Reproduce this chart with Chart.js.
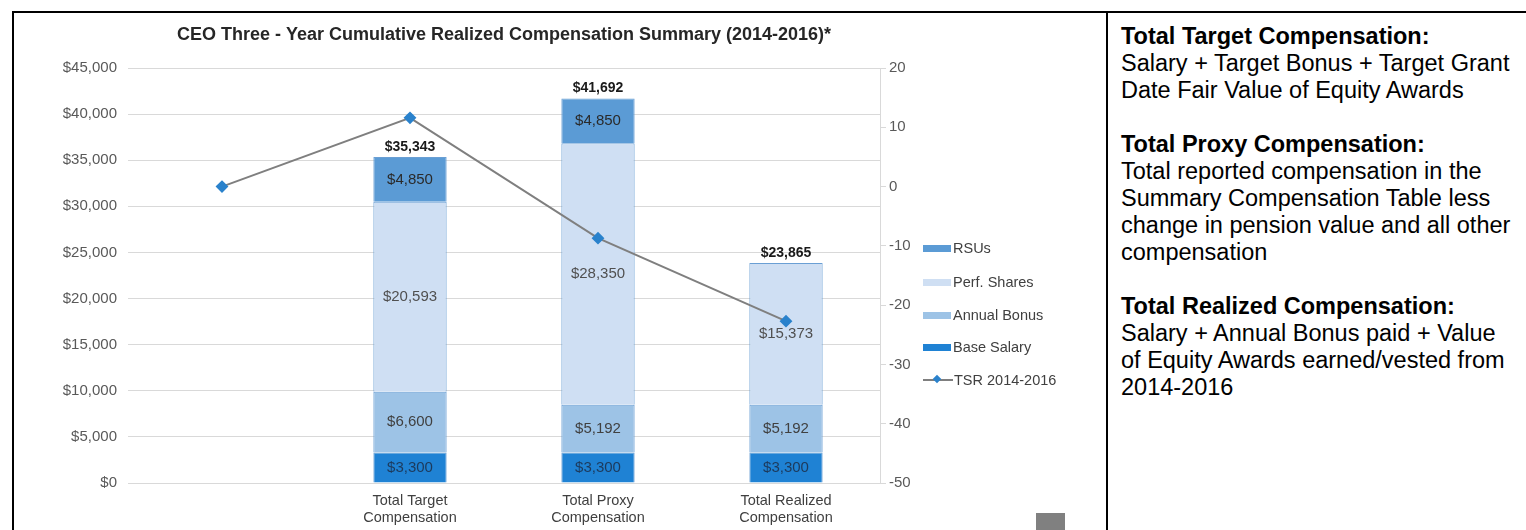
<!DOCTYPE html>
<html>
<head>
<meta charset="utf-8">
<script src="https://cdn.jsdelivr.net/npm/chart.js@4.4.1/dist/chart.umd.min.js"></script>
<style>
  body { margin: 0; background: #fff; font-family: "Liberation Sans", Arial, sans-serif; }
  #frame { position: absolute; left: 12px; top: 11px; width: 1600px; height: 600px;
           border-left: 2px solid #000; border-top: 2px solid #000; }
  #divider { position: absolute; left: 1106px; top: 11px; width: 2px; height: 600px; background: #000; }
  #chartBox { position: absolute; left: 14px; top: 14px; width: 1092px; height: 516px; }
  #notes { position: absolute; left: 1121px; top: 23px; font-size: 23.5px; color: #000; white-space: nowrap; }
  #legend { position: absolute; left: 923px; top: 0; font-size: 14.5px; color: #404040; }
  .item { position: absolute; left: 0; height: 16px; white-space: nowrap; }
  .swatch { position: absolute; left: 0; top: 5px; width: 28px; height: 7px; }
  .name { position: absolute; left: 30px; top: 0; line-height: 16px; }
  #stamp { position: absolute; left: 1036px; top: 513px; width: 29px; height: 17px; background: #808080; }
</style>
</head>
<body>
<div id="frame"></div>
<div id="divider"></div>
<div id="chartBox"><canvas id="chart" width="1092" height="516"></canvas></div>
<div id="legend"></div>
<div id="stamp"></div>
<div id="notes">
<b>Total Target Compensation:</b><br>Salary + Target Bonus + Target Grant<br>Date Fair Value of Equity Awards<br><br>
<b>Total Proxy Compensation:</b><br>Total reported compensation in the<br>Summary Compensation Table less<br>change in pension value and all other<br>compensation<br><br>
<b>Total Realized Compensation:</b><br>Salary + Annual Bonus paid + Value<br>of Equity Awards earned/vested from<br>2014-2016
</div>
<script>
// values ($, TSR in %)
const categories = ['', ['Total Target', 'Compensation'], ['Total Proxy', 'Compensation'], ['Total Realized', 'Compensation']];
const baseSalary  = [null, 3300, 3300, 3300];
const annualBonus = [null, 6600, 5192, 5192];
const perfShares  = [null, 20593, 28350, 15373];
const rsus        = [null, 4850, 4850, null];
const tsr         = [0, 11.6, -8.7, -22.7];
const leftRange   = [0, 45000, 5000];
const rightRange  = [-50, 20, 10];

const FONT = '"Liberation Sans", Arial, sans-serif';
const money = v => '$' + Math.round(v).toLocaleString('en-US');

// stacked from the bottom up
const barSeries = [
  { label: 'Base Salary',  data: baseSalary,  color: '#1f82d4', text: '#1d3a5c' },
  { label: 'Annual Bonus', data: annualBonus, color: '#9dc3e6', text: '#404040' },
  { label: 'Perf. Shares', data: perfShares,  color: '#cfdff3', text: '#505050' },
  { label: 'RSUs',         data: rsus,        color: '#5b9bd5', text: '#2a2a2a' }
];

const barLabels = {
  id: 'barLabels',
  afterDatasetsDraw(chart) {
    const ctx = chart.ctx;
    const y = chart.scales.y;
    ctx.save();
    ctx.textAlign = 'center';
    ctx.textBaseline = 'middle';
    ctx.font = '15px ' + FONT;
    barSeries.forEach((s, i) => {
      chart.getDatasetMeta(i).data.forEach((bar, j) => {
        if (!s.data[j]) return;
        ctx.fillStyle = s.text;
        ctx.fillText(money(s.data[j]), bar.x, (bar.y + bar.base) / 2);
      });
    });
    // totals on top of each stack
    ctx.font = 'bold 14px ' + FONT;
    ctx.fillStyle = '#1a1a1a';
    const meta = chart.getDatasetMeta(0);
    categories.forEach((c, j) => {
      let total = 0;
      barSeries.forEach(s => { total += s.data[j] || 0; });
      if (!total) return;
      ctx.fillText(money(total), meta.data[j].x, y.getPixelForValue(total) - 10);
    });
    ctx.restore();
  }
};

const datasets = barSeries.map(s => ({
  type: 'bar',
  label: s.label,
  data: s.data,
  backgroundColor: s.color,
  borderColor: '#6a9fd4',
  borderWidth: 1,
  yAxisID: 'y',
  order: 1
}));
datasets.push({
  type: 'line',
  label: 'TSR 2014-2016',
  data: tsr,
  borderColor: '#7f7f7f',
  borderWidth: 2,
  pointStyle: 'rectRot',
  pointRadius: 5,
  pointBackgroundColor: '#2a82cc',
  pointBorderColor: '#2a82cc',
  yAxisID: 'y1',
  order: 0
});

new Chart(document.getElementById('chart'), {
  data: { labels: categories, datasets: datasets },
  options: {
    responsive: false,
    animation: false,
    layout: { padding: 0 },
    datasets: { bar: { categoryPercentage: 1, barPercentage: 0.39 } },
    plugins: {
      legend: { display: false },
      tooltip: { enabled: false },
      title: {
        display: true,
        fullSize: false,
        text: 'CEO Three - Year Cumulative Realized Compensation Summary (2014-2016)*',
        color: '#262626',
        font: { family: FONT, size: 18, weight: 'bold' },
        padding: { top: 10, bottom: 22.4 }
      }
    },
    scales: {
      x: {
        stacked: true,
        grid: { display: false },
        border: { display: false },
        ticks: { color: '#404040', font: { family: FONT, size: 14.5 }, padding: 1, maxRotation: 0, autoSkip: false },
        afterFit: s => { s.height = 47; }
      },
      y: {
        stacked: true,
        position: 'left',
        min: leftRange[0], max: leftRange[1],
        grid: { color: '#d9d9d9', drawTicks: false },
        border: { display: false },
        ticks: { stepSize: leftRange[2], color: '#595959', padding: 11, font: { family: FONT, size: 15 }, callback: v => money(v) },
        afterFit: s => { s.width = 114; }
      },
      y1: {
        position: 'right',
        min: rightRange[0], max: rightRange[1],
        grid: { drawOnChartArea: false, color: '#d9d9d9', tickLength: 6 },
        border: { display: true, color: '#d9d9d9' },
        ticks: { stepSize: rightRange[2], color: '#595959', padding: 3, font: { family: FONT, size: 15 } },
        afterFit: s => { s.width = 226; }
      }
    }
  },
  plugins: [barLabels]
});

// legend, top entry first
const legendRows = [
  { label: 'RSUs', color: '#5b9bd5', y: 240 },
  { label: 'Perf. Shares', color: '#cfdff3', y: 274 },
  { label: 'Annual Bonus', color: '#9dc3e6', y: 307 },
  { label: 'Base Salary', color: '#1f82d4', y: 339 },
  { label: 'TSR 2014-2016', line: true, y: 372 }
];
const legend = document.getElementById('legend');
legendRows.forEach(r => {
  const row = document.createElement('div');
  row.className = 'item';
  row.style.top = r.y + 'px';
  if (r.line) {
    row.innerHTML = '<div style="position:absolute;left:0;top:7px;width:30px;height:2px;background:#7f7f7f"></div>' +
      '<div style="position:absolute;left:11px;top:4px;width:6px;height:6px;background:#2a82cc;transform:rotate(45deg)"></div>' +
      '<span class="name" style="left:31px">' + r.label + '</span>';
  } else {
    row.innerHTML = '<div class="swatch" style="background:' + r.color + '"></div><span class="name">' + r.label + '</span>';
  }
  legend.appendChild(row);
});
</script>
</body>
</html>
